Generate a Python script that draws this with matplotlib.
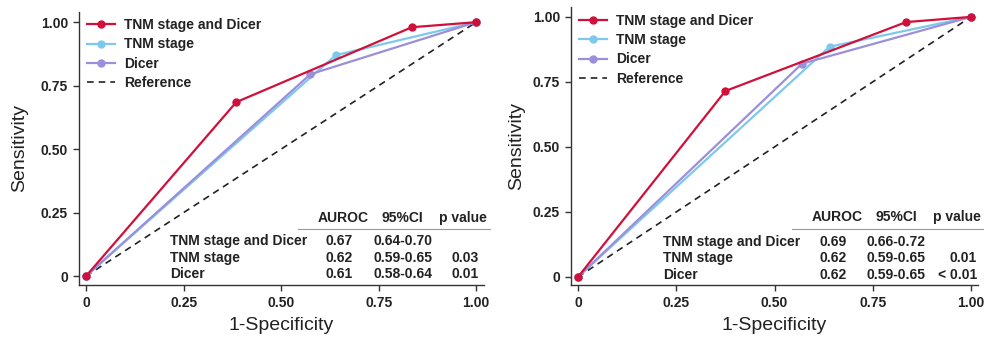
import matplotlib
matplotlib.use("Agg")
import matplotlib.pyplot as plt
from matplotlib.lines import Line2D

plt.rcParams['font.family'] = ['Liberation Sans', 'DejaVu Sans']

W, H = 984, 338

# ---- data ----
series_names = ["TNM stage and Dicer", "TNM stage", "Dicer"]
colors = ["#d0103a", "#7ec8ec", "#9b8fdc"]

left_x = {
    "TNM stage and Dicer": [0, 0.385, 0.835, 1.0],
    "TNM stage": [0, 0.64, 1.0],
    "Dicer": [0, 0.575, 1.0],
}
left_y = {
    "TNM stage and Dicer": [0, 0.685, 0.98, 1.0],
    "TNM stage": [0, 0.87, 1.0],
    "Dicer": [0, 0.795, 1.0],
}
right_x = {
    "TNM stage and Dicer": [0, 0.375, 0.835, 1.0],
    "TNM stage": [0, 0.64, 1.0],
    "Dicer": [0, 0.57, 1.0],
}
right_y = {
    "TNM stage and Dicer": [0, 0.715, 0.98, 1.0],
    "TNM stage": [0, 0.885, 1.0],
    "Dicer": [0, 0.82, 1.0],
}

ticks = [0, 0.25, 0.5, 0.75, 1.0]
tick_labels = ["0", "0.25", "0.50", "0.75", "1.00"]

table_header = ["AUROC", "95%CI", "p value"]
left_auroc = ["0.67", "0.62", "0.61"]
left_ci = ["0.64-0.70", "0.59-0.65", "0.58-0.64"]
left_p = ["", "0.03", "0.01"]
right_auroc = ["0.69", "0.62", "0.62"]
right_ci = ["0.66-0.72", "0.59-0.65", "0.59-0.65"]
right_p = ["", "0.01", "< 0.01"]

fig = plt.figure(figsize=(W / 100, H / 100), dpi=100)


def px(x, y):
    return x / W, 1 - y / H


def make_panel(rect, xlim, ylim, xs, ys, leg_y):
    ax = fig.add_axes(rect)
    ax.plot([0, 1], [0, 1], color="#222222", lw=1.2, ls=(0, (4, 3)), zorder=1)
    for name, c in zip(series_names, colors):
        ax.plot(xs[name], ys[name], color=c, lw=1.6, marker="o", ms=5,
                zorder=3 if name == series_names[0] else 2)
    ax.set_xlim(*xlim)
    ax.set_ylim(*ylim)
    for s in ["top", "right"]:
        ax.spines[s].set_visible(False)
    for s in ["left", "bottom"]:
        ax.spines[s].set_color("#333333")
        ax.spines[s].set_linewidth(1.0)
    ax.set_xticks(ticks)
    ax.set_xticklabels(tick_labels)
    ax.set_yticks(ticks)
    ax.set_yticklabels(tick_labels)
    ax.tick_params(direction="out", length=4, width=1, color="#333333",
                   labelsize=10, pad=4)
    for lab in ax.get_xticklabels() + ax.get_yticklabels():
        lab.set_fontweight("bold")
        lab.set_color("#222222")
    ax.set_xlabel("1-Specificity", fontsize=14, color="#222222", labelpad=5)
    ax.set_ylabel("Sensitivity", fontsize=14, color="#222222")
    handles = [Line2D([], [], color=c, lw=1.6, marker="o", ms=5)
               for c in colors]
    handles.append(Line2D([], [], color="#222222", lw=1.2, ls=(0, (4, 3))))
    leg = ax.legend(handles, series_names + ["Reference"], loc="upper left",
                    bbox_to_anchor=(0.0, leg_y), frameon=False,
                    prop={"weight": "bold", "size": 10}, handlelength=2.0,
                    handletextpad=0.65, labelspacing=0.38, numpoints=1,
                    borderaxespad=0.2)
    for t in leg.get_texts():
        t.set_color("#222222")
    return ax


axL = make_panel([79 / W, 53 / H, 405 / W, 273 / H], (-0.018, 1.02), (-0.035, 1.04),
                 left_x, left_y, 1.008)
axR = make_panel([571 / W, 53 / H, 407 / W, 278 / H], (-0.018, 1.018), (-0.031, 1.038),
                 right_x, right_y, 1.005)
axL.yaxis.set_label_coords(-0.125, 0.5)
axR.yaxis.set_label_coords(-0.113, 0.5)


def table(hx, hy, line_x0, line_x1, line_y, label_x, auroc_x, ci_x, p_x, row_ys,
          auroc, ci, p):
    kw = dict(fontsize=10, fontweight="bold", color="#222222", va="center")
    for x, t in zip(hx, table_header):
        fig.text(*px(x, hy), t, ha="center", **kw)
    fig.add_artist(Line2D([line_x0 / W, line_x1 / W], [1 - line_y / H] * 2,
                          color="#999999", lw=0.8))
    for i, ry in enumerate(row_ys):
        fig.text(*px(label_x, ry), series_names[i], ha="left", **kw)
        fig.text(*px(auroc_x, ry), auroc[i], ha="center", **kw)
        fig.text(*px(ci_x, ry), ci[i], ha="center", **kw)
        if p[i]:
            fig.text(*px(p_x, ry), p[i], ha="right", **kw)


table([343, 402, 463], 218, 298, 490, 229, 170, 339, 403, 479, [241, 258, 274],
      left_auroc, left_ci, left_p)
table([837, 896, 957], 217, 792, 983, 229, 663, 833, 896, 977, [242, 258, 275],
      right_auroc, right_ci, right_p)

fig.savefig("out.png", dpi=100)
